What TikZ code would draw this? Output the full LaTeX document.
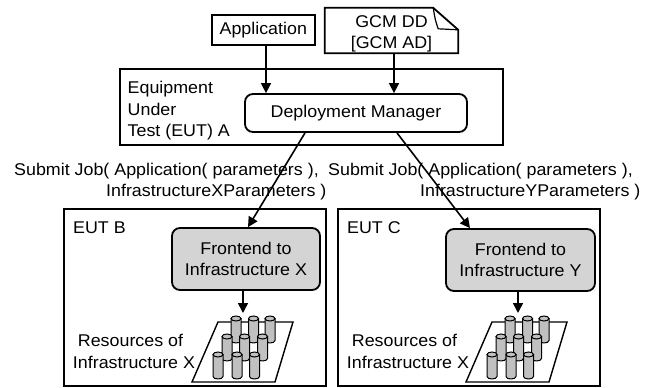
\documentclass[tikz,border=0pt]{standalone}
\usepackage{fontspec}
\setmainfont{Liberation Sans}[FakeStretch=1.05]
\usetikzlibrary{arrows.meta}
\definecolor{fe}{RGB}{212,212,212}
\definecolor{cy}{RGB}{192,192,192}
\newcommand\mycyl[2]{%
  \filldraw[cylst] ({#1-5},#2) -- ({#1-5},{#2+22}) .. controls ({#1-5},{#2+25.3}) and ({#1+5},{#2+25.3}) .. ({#1+5},{#2+22}) -- ({#1+5},#2) -- cycle;
  \filldraw[cylst] (#1,#2) ellipse [x radius=5pt, y radius=2.5pt];
}
\newcommand\myres{%
  \filldraw[fill=white, line width=1.4pt] (218,322) -- (293,322) -- (275,382) -- (192,382) -- cycle;
  \foreach \cx in {236,253.5,270} {\mycyl{\cx}{318.5}}
  \foreach \cx in {227,244.5,262.5} {\mycyl{\cx}{336.5}}
  \foreach \cx in {218,237,254.5} {\mycyl{\cx}{354.5}}
}
\begin{document}
\begin{tikzpicture}[x=1pt,y=-1pt,
  font=\fontsize{17}{21}\selectfont,
  box/.style={draw, line width=1.8pt, inner sep=0pt},
  rbox/.style={draw, line width=1.8pt, rounded corners=8pt, inner sep=0pt, align=center},
  grbox/.style={rbox, fill=fe},
  arr/.style={line width=1.6pt, -{Triangle[length=10pt,width=10pt]}},
  lbl/.style={inner sep=0pt, anchor=base west},
  clbl/.style={inner sep=0pt, anchor=base},
  cylst/.style={draw, line width=1pt, fill=cy},
]
\useasboundingbox (0,0) rectangle (657,388);

% outer containers
\node[box, minimum width=383pt, minimum height=76pt] (euta) at (311.5,107) {};
\node[box, minimum width=262pt, minimum height=177pt] (eutb) at (195,297.5) {};
\node[box, minimum width=262pt, minimum height=177pt] (eutc) at (469,297.5) {};

% top inputs
\node[box, minimum width=103pt, minimum height=30pt] (app) at (263.3,30) {Application};
\node[inner sep=0pt, minimum width=133pt, minimum height=45pt] (gcmbox) at (391.5,30.5) {};
\draw[line width=1.8pt, line join=miter]
  (gcmbox.north west) -- ([xshift=-25pt]gcmbox.north east) -- ([yshift=-22pt]gcmbox.north east)
  -- (gcmbox.south east) -- (gcmbox.south west) -- cycle;
\draw[line width=1.2pt]
  ([xshift=-25pt]gcmbox.north east) .. controls ([xshift=-23pt,yshift=-12pt]gcmbox.north east) .. ([xshift=-20pt,yshift=-21pt]gcmbox.north east)
  -- ([yshift=-22pt]gcmbox.north east);
\node[inner sep=0pt, align=center] (gcm) at (391.5,33.4) {GCM DD\\{[GCM AD]}};

% deployment manager
\node[rbox, minimum width=222pt, minimum height=38pt] (dm) at (356,113) {Deployment Manager};

% EUT A label
\node[lbl] (la1) at (127.5,93.3) {Equipment};
\node[lbl] (la2) at (127.5,115) {Under};
\node[lbl] (la3) at (127.5,136.7) {Test (EUT) A};

% submit job labels
\node[lbl] (sx1) at (14,175) {Submit Job( Application( parameters ),};
\node[lbl] (sx2) at (106,196) {InfrastructureXParameters )};
\node[lbl] (sy1) at (328,175) {Submit Job( Application( parameters ),};
\node[lbl] (sy2) at (420,196) {InfrastructureYParameters )};

% EUT B / C labels
\node[lbl] (lb) at (73,233.3) {EUT B};
\node[lbl] (lc) at (347,233.3) {EUT C};

% frontends
\node[grbox, minimum width=148pt, minimum height=62pt] (fx) at (246,259) {Frontend to\\Infrastructure X};
\node[grbox, minimum width=149pt, minimum height=62pt] (fy) at (520.5,260) {Frontend to\\Infrastructure Y};

% resources
\myres
\begin{scope}[xshift=274pt]
\myres
\end{scope}
\coordinate (rx) at (243,313);
\coordinate (ry) at (518,313);
\node[clbl] (rbx1) at (130.5,346.7) {Resources of};
\node[clbl] (rbx2) at (134,368) {Infrastructure X};
\node[clbl] (rcx1) at (404.5,346.7) {Resources of};
\node[clbl] (rcx2) at (408,368) {Infrastructure X};

% connectors
\draw[arr] ([xshift=2.7pt]app.south) -- ([xshift=2.7pt]app.south |- dm.north);
\draw[arr] ([xshift=2.5pt]gcmbox.south) -- ([xshift=2.5pt]gcmbox.south |- dm.north);
\draw[arr] ([xshift=-51pt]dm.south) -- ([xshift=2pt]fx.north);
\draw[arr] ([xshift=41pt]dm.south) -- ([xshift=-50.5pt]fy.north);
\draw[arr] (fx.south -| rx) -- (rx);
\draw[arr] (fy.south -| ry) -- (ry);
\end{tikzpicture}
\end{document}
